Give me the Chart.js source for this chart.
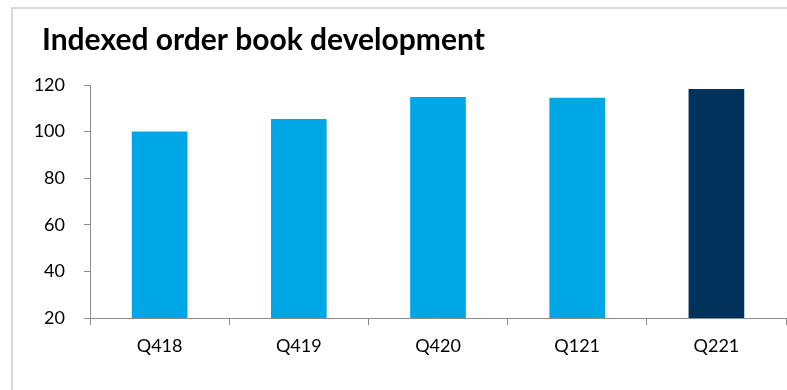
<!DOCTYPE html>
<html>
<head>
<meta charset="utf-8">
<script src="https://cdn.jsdelivr.net/npm/chart.js@4.4.1/dist/chart.umd.min.js"></script>
<style>
  html, body { margin: 0; padding: 0; background: #ffffff; }
  #wrap { position: relative; width: 787px; height: 390px; }
</style>
</head>
<body>
<div id="wrap"><canvas id="chart" width="787" height="390"></canvas></div>
<script>
// Quarterly order book, indexed to Q418 = 100
const quarters = ['Q418', 'Q419', 'Q420', 'Q121', 'Q221'];
const orderBookIndex = [100, 105.4, 114.8, 114.5, 118.3];
const barColors = ['#00a7e7', '#00a7e7', '#00a7e7', '#00a7e7', '#00325b'];
const yTicks = [20, 40, 60, 80, 100, 120];
const titleText = 'Indexed order book development';

const axisGray = '#8c8c8c';
const fontFamily = 'Lato, "Open Sans", sans-serif';

// Light frame plus the chart heading, drawn onto the canvas
const framePlugin = {
  id: 'frame',
  beforeDraw(chart) {
    const ctx = chart.ctx;
    ctx.save();
    ctx.fillStyle = '#ffffff';
    ctx.fillRect(0, 0, chart.width, chart.height);
    ctx.fillStyle = '#d9d9d9';
    ctx.fillRect(11, 7, chart.width - 11, 2);
    ctx.fillRect(11, 7, 2, chart.height - 7);
    ctx.restore();
  },
  afterDraw(chart) {
    const ctx = chart.ctx;
    ctx.save();
    ctx.fillStyle = '#000000';
    ctx.font = 'bold 30px ' + fontFamily;
    ctx.textAlign = 'left';
    ctx.textBaseline = 'alphabetic';
    ctx.fillText(titleText, 42, 50);
    ctx.restore();
  }
};

new Chart(document.getElementById('chart'), {
  type: 'bar',
  data: {
    labels: quarters,
    datasets: [{
      data: orderBookIndex,
      backgroundColor: barColors,
      borderWidth: 0,
      barPercentage: 0.4,
      categoryPercentage: 1.0
    }]
  },
  options: {
    responsive: false,
    animation: false,
    events: [],
    layout: { padding: { left: 0, right: 1, top: 85, bottom: 0 } },
    plugins: {
      legend: { display: false },
      title: { display: false },
      tooltip: { enabled: false }
    },
    scales: {
      x: {
        grid: {
          drawOnChartArea: false,
          drawTicks: true,
          tickLength: 7,
          color: axisGray,
          lineWidth: 1
        },
        border: { color: axisGray, width: 1 },
        ticks: {
          color: '#000000',
          font: { family: fontFamily, size: 18 },
          padding: 10,
          maxRotation: 0
        },
        afterFit(scale) { scale.height = 72; }
      },
      y: {
        min: 20,
        max: 120,
        afterBuildTicks(scale) {
          scale.ticks = yTicks.map(v => ({ value: v }));
        },
        grid: {
          drawOnChartArea: false,
          drawTicks: true,
          tickLength: 6,
          color: axisGray,
          lineWidth: 1
        },
        border: { color: axisGray, width: 1 },
        ticks: {
          color: '#000000',
          font: { family: fontFamily, size: 18 },
          padding: 19
        },
        afterFit(scale) { scale.width = 90; }
      }
    }
  },
  plugins: [framePlugin]
});
</script>
</body>
</html>
